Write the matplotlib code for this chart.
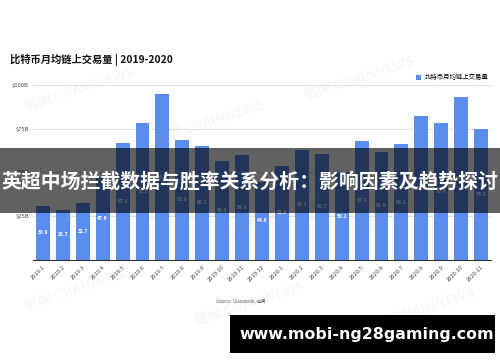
import matplotlib
matplotlib.use("Agg")
import matplotlib.pyplot as plt
from matplotlib.patches import Rectangle

plt.rcParams['font.family'] = ['Noto Sans CJK SC', 'DejaVu Sans']

months = ["2019.1", "2019.2", "2019.3", "2019.4", "2019.5", "2019.6", "2019.7",
          "2019.8", "2019.9", "2019.10", "2019.11", "2019.12", "2020.1", "2020.2",
          "2020.3", "2020.4", "2020.5", "2020.6", "2020.7", "2020.8", "2020.9",
          "2020.10", "2020.11"]
volumes = [30.9, 28.7, 32.7, 47.6, 67.1, 78.5, 94.6, 68.8, 65.3, 56.4, 59.9, 44.6,
           53.9, 63.1, 60.7, 50.2, 67.8, 61.9, 66.1, 82.1, 78.4, 93.2, 74.8]
yticks = [25, 50, 75, 100]
ytick_labels = ["$25B", "$50B", "$75B", "$100B"]

title = "比特币月均链上交易量 | 2019-2020"
series_name = "比特币月均链上交易量"
source = "Source: Glassnode, 链闻"
banner = "英超中场拦截数据与胜率关系分析：影响因素及趋势探讨"
site = "www.mobi-ng28gaming.com"

fig = plt.figure(figsize=(5, 3.62), dpi=100)
ax = fig.add_axes([0.066, 0.2818, 0.916, 0.4834])

bar_color = "#5b8def"
x = list(range(len(months)))
bars = ax.bar(x, volumes, width=0.7, color=bar_color, zorder=2, label=series_name)
for xi, v in zip(x, volumes):
    ax.text(xi, v / 2, f"{v:.1f}", ha="center", va="center", color="white",
            fontsize=3.6, fontweight="bold", zorder=3)

ax.set_xlim(-0.5, len(months) - 0.5)
ax.set_ylim(0, 100)
ax.set_yticks(yticks)
ax.set_yticklabels(ytick_labels, fontsize=4.2, color="#444444")
ax.set_xticks(x)
ax.set_xticklabels(months, rotation=45, ha="right", rotation_mode="anchor",
                   fontsize=4.2, color="#444444")
ax.tick_params(axis="both", length=0, pad=3)
ax.grid(axis="y", color="#e3e3e3", linewidth=0.8, zorder=0)
for s in ["top", "right", "left"]:
    ax.spines[s].set_visible(False)
ax.spines["bottom"].set_color("#333333")
ax.spines["bottom"].set_linewidth(0.8)

leg = fig.legend(handles=[bars], labels=[series_name], loc="center left",
                 bbox_to_anchor=(0.826, 0.786), frameon=False, fontsize=4.6,
                 handlelength=0.8, handleheight=0.8, handletextpad=0.6,
                 borderaxespad=0)

fig.text(0.02, 0.835, title, fontsize=7.4, fontweight="bold", color="#111111",
         va="center", ha="left")
fig.text(0.432, 0.168, source, fontsize=3.2, color="#555555", va="center", ha="left")

# faint watermarks
wm = "链闻 CHAINNEWS"
for (wx, wy) in [(0.16, 0.75), (0.42, 0.66), (0.72, 0.78), (0.2, 0.45),
                 (0.55, 0.40), (0.83, 0.42), (0.16, 0.2), (0.5, 0.16), (0.84, 0.14)]:
    fig.text(wx, wy, wm, fontsize=10, color="#888888", alpha=0.07, rotation=18,
             ha="center", va="center", fontweight="bold", zorder=5)

# dark banner overlay
fig.patches.append(Rectangle((0, 1 - 213 / 362), 1, 65 / 362, transform=fig.transFigure,
                             facecolor="black", alpha=0.62, zorder=10))
fig.text(0.5, 1 - 181 / 362, banner, fontsize=14.3, fontweight="bold", color="white",
         ha="center", va="center", zorder=11)

# bottom site box
fig.patches.append(Rectangle((230 / 500, 1 - 353 / 362), 265 / 500, 38 / 362,
                             transform=fig.transFigure, facecolor="black", zorder=10))
fig.text(367 / 500, 1 - 335 / 362, site, fontsize=11.4, fontweight="bold", color="white",
         ha="center", va="center", zorder=11, family="DejaVu Sans")

fig.savefig("out.png", dpi=100, facecolor="white")
